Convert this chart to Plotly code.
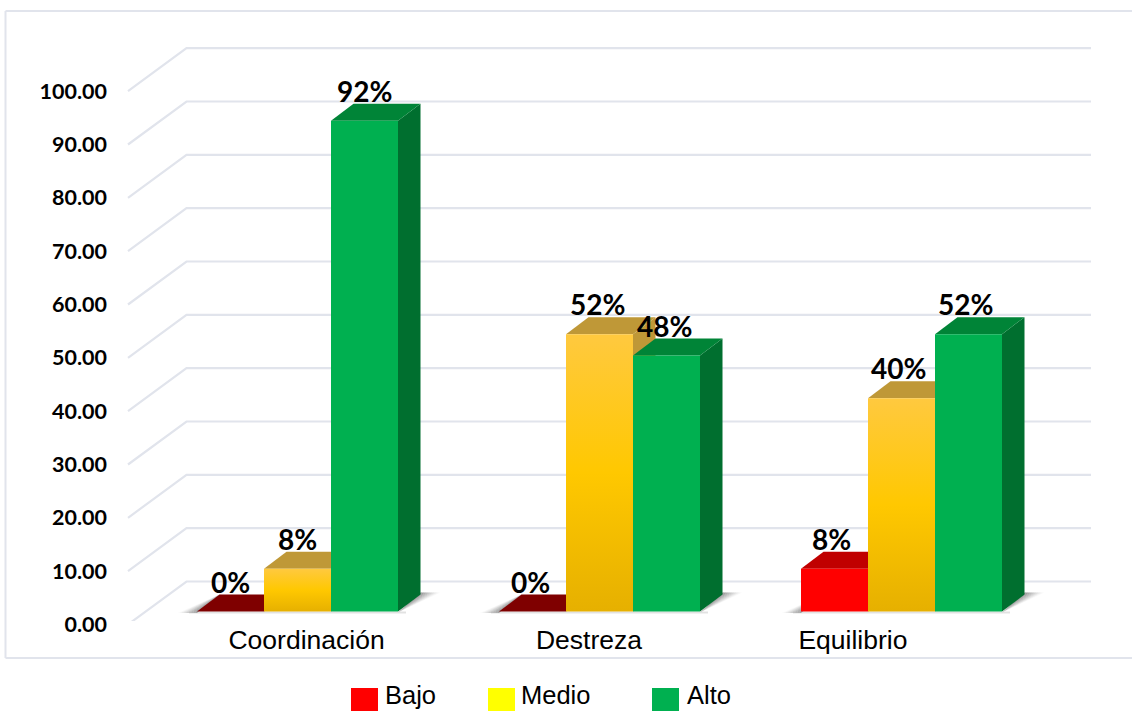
import plotly.graph_objects as go

categories = ["Coordinación", "Destreza", "Equilibrio"]
bajo = [0, 0, 8]
medio = [8, 52, 40]
alto = [92, 48, 52]
series_names = ["Bajo", "Medio", "Alto"]
y_ticks = [0, 10, 20, 30, 40, 50, 60, 70, 80, 90, 100]
label_positions = [0.03, 0.965, 1.839]
label_nudges = [0, -2, -3]

W, H = 1132, 711
PL, PR, PT, PB = 108, 1120, 20, 621      # plot area in page pixels
PX_X = 302.0                             # pixels per category
PX_Y = 5.3333                            # pixels per value unit
X0, Y0 = 297.5, 611.5                    # page position of (0, 0)

xr = [(PL - X0) / PX_X, (PR - X0) / PX_X]
yr = [(Y0 - PB) / PX_Y, (Y0 - PT) / PX_Y]

def ux(px):
    return px / PX_X

def uy(px):
    return px / PX_Y

def paper_x(px):
    return (px - PL) / (PR - PL)

def paper_y(px):
    return (PB - px) / (PB - PT)

BAR_W = ux(67)
DX, DY = ux(22.5), uy(17)

styles = {
    "Bajo": dict(front="#FF0000", top="#C00000", zero="#7F0000", side="#A80000"),
    "Medio": dict(front=None, top="#BF9837", zero="#BF9837", side="#BF9837"),
    "Alto": dict(front="#00B050", top="#008437", zero="#008437", side="#006F2F"),
}
legend_colors = ["#FF0000", "#FFFF00", "#00B050"]
GRID = "#E1E4EC"

fig = go.Figure()

# wall and floor lines
gx, gy = [], []
for v in y_ticks:
    gx += [ux(128 - X0), ux(186.5 - X0), ux(1091 - X0), None]
    gy += [v + uy(Y0 - 624.5), v + uy(Y0 - 581.5), v + uy(Y0 - 581.5), None]
fig.add_trace(go.Scatter(x=gx, y=gy, mode="lines", line=dict(color=GRID, width=2.2),
                         hoverinfo="skip", showlegend=False, cliponaxis=False))

def poly(xs, ys, color=None, gradient=None):
    kw = dict(fillgradient=gradient) if gradient else dict(fillcolor=color)
    fig.add_trace(go.Scatter(x=xs + xs[:1], y=ys + ys[:1], mode="lines", fill="toself",
                             line=dict(width=0), hoverinfo="skip", showlegend=False, **kw))

medio_grad = dict(type="vertical",
                  colorscale=[[0, "#E6B000"], [0.5, "#FFC800"], [1, "#FFC93F"]])

SHADOW_STEPS = 10
all_series = [bajo, medio, alto]
for g in range(len(categories)):
    left = g - 1.5 * BAR_W
    sl = left
    sr = g + 1.5 * BAR_W
    # soft floor shadows, fanned out from the back-left and front-right corners
    for i in range(SHADOW_STEPS):
        a = i / SHADOW_STEPS
        b = (i + 1) / SHADOW_STEPS
        alpha = 0.72 * (1 - a) ** 1.3
        poly([sl + DX, sl - ux(19 * a), sl - ux(19 * b)],
             [DY, uy(-1.5), uy(-1.5)], color=f"rgba(95,95,95,{alpha:.3f})")
        poly([sr, sr + DX + ux(20 * a), sr + DX + ux(20 * b)],
             [uy(-1), uy(19), uy(19)], color=f"rgba(95,95,95,{alpha:.3f})")
    poly([sl - ux(8), sr + ux(8), sr + ux(8), sl - ux(8)],
         [uy(-2), uy(-2), 0, 0], color="rgba(190,190,190,0.45)")
    for s, name in enumerate(series_names):
        v = all_series[s][g]
        st = styles[name]
        x0 = left + s * BAR_W
        x1 = x0 + BAR_W
        if v > 0:
            poly([x1, x1 + DX, x1 + DX, x1], [0, DY, v + DY, v], st["side"])
            poly([x0, x1, x1 + DX, x0 + DX], [v, v, v + DY, v + DY], st["top"])
            if st["front"]:
                poly([x0, x1, x1, x0], [0, 0, v, v], st["front"])
            else:
                poly([x0, x1, x1, x0], [0, 0, v, v], gradient=medio_grad)
        else:
            poly([x0, x1, x1 + DX, x0 + DX], [0, 0, DY, DY], st["zero"])

annotations = []
for g in range(len(categories)):
    left = g - 1.5 * BAR_W
    for s in range(3):
        v = all_series[s][g]
        annotations.append(dict(
            x=left + (s + 0.5) * BAR_W, y=v, yshift=30, xshift=label_nudges[g],
            text=f"{v}%", showarrow=False, xanchor="center", yanchor="middle",
            font=dict(family="Lato", size=28, color="#000000", weight=700)))

# legend row
shapes = []
for name, color, sq_x, tx_x in zip(series_names, legend_colors, [351, 488, 652], [383, 519, 685]):
    shapes.append(dict(type="rect", xref="paper", yref="paper",
                       x0=paper_x(sq_x), x1=paper_x(sq_x + 27),
                       y0=paper_y(688), y1=paper_y(711),
                       fillcolor=color, line=dict(width=0), layer="above"))
    annotations.append(dict(xref="paper", yref="paper", x=paper_x(tx_x), y=paper_y(695.5),
                            text=name, showarrow=False, xanchor="left", yanchor="middle",
                            font=dict(family="Liberation Sans", size=25.5, color="#000000")))

# outer frame (its right side runs off the page)
for x0, y0, x1, y1 in [(5.5, 11, 1140, 11), (5.5, 11, 5.5, 658), (5.5, 658, 1140, 658)]:
    shapes.append(dict(type="line", xref="paper", yref="paper",
                       x0=paper_x(x0), x1=paper_x(x1), y0=paper_y(y0), y1=paper_y(y1),
                       line=dict(color=GRID, width=2), layer="below"))

fig.update_layout(
    width=W, height=H, autosize=False,
    margin=dict(l=PL, r=W - PR, t=PT, b=H - PB, pad=0),
    paper_bgcolor="#FFFFFF", plot_bgcolor="rgba(0,0,0,0)",
    showlegend=False, annotations=annotations, shapes=shapes,
    xaxis=dict(range=xr, tickmode="array", tickvals=label_positions, ticktext=categories,
               showgrid=False, zeroline=False, showline=False, ticks="", fixedrange=True,
               tickfont=dict(family="Liberation Sans", size=26.5, color="#000000")),
    yaxis=dict(range=yr, tickmode="array", tickvals=y_ticks,
               ticktext=[f"{v:.2f}" for v in y_ticks],
               showgrid=False, zeroline=False, showline=False, ticks="", fixedrange=True,
               ticklabelshift=13,
               tickfont=dict(family="Lato", size=21.5, color="#000000", weight=700)),
)

fig.write_html("out.html", config=dict(displayModeBar=False),
               post_script="document.body.style.margin='0';document.body.style.overflow='hidden';")
